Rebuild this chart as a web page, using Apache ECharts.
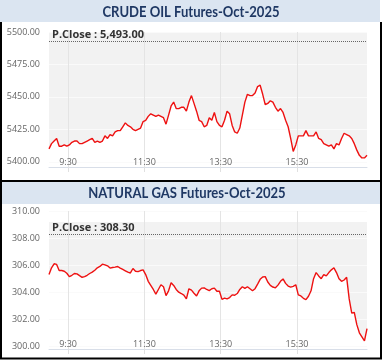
<!DOCTYPE html>
<html><head><meta charset="utf-8">
<script src="https://cdn.jsdelivr.net/npm/echarts@6/dist/echarts.min.js"></script>
<style>html,body{margin:0;padding:0;background:#fff}#c{width:383px;height:362px}</style>
</head><body><div id="c"></div>
<script>
// Sampling grid: 9:00 onward, every 4 minutes
const startMinute = 540;
const stepMinutes = 4;
const timeTickLabels = ['9:30', '11:30', '13:30', '15:30'];

const crudeTitle = 'CRUDE OIL Futures-Oct-2025';
const crudePrevClose = 5493.00;
const crudeYTicks = [5400, 5425, 5450, 5475, 5500];
const crudeValues = [
5410,5414,5416,5418,5412,5412,5413,5412,5413,5415,
5416,5416,5414,5414,5415,5416,5417,5418,5415,5416,
5415,5416,5420,5418,5421,5420,5423,5424,5424,5427,
5430,5428,5427,5425,5424,5425,5426,5431,5432,5435,
5437,5436,5435,5436,5435,5434,5429,5436,5443,5446,
5441,5441,5442,5442,5439,5446,5451,5445,5439,5432,
5431,5427,5428,5434,5432,5438,5431,5428,5427,5432,
5439,5437,5428,5423,5422,5426,5436,5446,5452,5451,
5451,5453,5458,5459,5452,5444,5445,5447,5446,5442,
5439,5441,5438,5432,5427,5418,5408,5413,5420,5420,
5420,5424,5420,5420,5420,5423,5418,5417,5414,5413,
5412,5413,5410,5414,5413,5418,5422,5421,5420,5418,
5414,5409,5405,5403,5403,5405
];

const gasTitle = 'NATURAL GAS Futures-Oct-2025';
const gasPrevClose = 308.30;
const gasYTicks = [300, 302, 304, 306, 308, 310];
const gasValues = [
305.3,305.8,306.1,306.05,305.6,305.6,305.55,305.4,305.15,305.25,
305.38,305.35,305.22,305.1,305.15,305.25,305.38,305.48,305.62,305.8,
305.9,306.07,306.02,305.95,305.78,305.82,305.85,305.9,305.78,305.68,
305.58,305.48,305.42,305.75,305.55,305.52,305.6,305.65,305.3,304.8,
304.5,304.2,303.85,304.2,304.55,304.4,303.75,304.1,304.7,304.5,
304.2,304.0,303.9,303.78,303.5,304.25,304.15,303.92,303.72,304.1,
304.3,304.32,304.2,304.12,304.25,304.3,304.07,304.07,303.47,303.56,
303.5,303.6,303.8,303.77,303.9,304.2,304.4,304.28,304.4,304.25,
304.1,304.26,304.6,304.95,305.12,305.15,304.75,304.5,304.38,304.32,
304.52,304.8,304.98,304.65,304.45,304.37,304.43,304.55,303.8,303.72,
303.55,303.45,303.7,304.1,305.0,305.45,305.2,305.0,305.3,305.2,
305.45,305.65,305.8,305.45,305.0,304.8,304.9,305.1,303.5,302.45,
302.5,301.6,301.0,300.7,300.4,301.3
];

function toMinutes(lbl){const p=lbl.split(':');return (+p[0])*60+(+p[1]);}
function fmtTime(v){const h=Math.floor(v/60), m=v%60;return h+':'+(m<10?'0':'')+m;}
function pairs(vals){return vals.map((v,i)=>[startMinute+i*stepMinutes, v]);}
const tickMinutes = timeTickLabels.map(toMinutes);
const xMax = startMinute + (crudeValues.length-1)*stepMinutes;

const labelFont = {fontFamily:'Open Sans', fontSize:9, color:'#666'};

function xAxisDef(gi){
  return {type:'value', gridIndex:gi, min:startMinute, max:xMax, z:3,
    axisLine:{show:true, lineStyle:{color:'#d8dee8', width:1}},
    axisTick:{show:true, customValues:tickMinutes, length:5, lineStyle:{color:'#e0e0e0'}},
    axisLabel:Object.assign({show:true, customValues:tickMinutes, inside:true, margin:0, formatter:fmtTime, hideOverlap:false, showMinLabel:true, showMaxLabel:true}, labelFont),
    splitLine:{show:true, lineStyle:{color:'#e4e4e4', width:1}}};
}
function yAxisDef(gi, min, max, ticks){
  return {type:'value', gridIndex:gi, min:min, max:max, z:3,
    axisLine:{show:false}, axisTick:{show:false, customValues:ticks},
    axisLabel:Object.assign({customValues:ticks, margin:9, formatter:v=>v.toFixed(2)}, labelFont),
    splitLine:{show:true, lineStyle:{color:'#fafafa', width:1}}};
}
function areaSeries(gi, vals){
  return {type:'line', xAxisIndex:gi, yAxisIndex:gi, data:pairs(vals), showSymbol:false, z:1,
    lineStyle:{width:0, opacity:0}, areaStyle:{color:'#ffffff', opacity:1}, silent:true, animation:false};
}
function lineSeries(gi, vals, pc, pcText){
  return {type:'line', xAxisIndex:gi, yAxisIndex:gi, data:pairs(vals), showSymbol:false, z:5,
    lineStyle:{color:'#ee1111', width:1.4}, itemStyle:{color:'#ee1111'},
    silent:true, animation:false,
    markLine:{silent:true, symbol:'none', animation:false,
      lineStyle:{color:'#666', type:'dotted', width:1},
      label:{show:true, position:'insideStartTop', formatter:pcText, distance:[3,1],
        fontFamily:'Open Sans', fontSize:11, fontWeight:'bold', color:'#333'},
      data:[{yAxis:pc}]}};
}

const chart = echarts.init(document.getElementById('c'), null, {renderer:'canvas'});
chart.setOption({
  animation:false,
  grid:[
    {left:49, top:32, width:318, height:135, show:false},
    {left:49, top:211, width:318, height:138, show:false}
  ],
  xAxis:[xAxisDef(0), xAxisDef(1)],
  yAxis:[yAxisDef(0,5396,5500,crudeYTicks), yAxisDef(1,299.8,310,gasYTicks)],
  series:[
    areaSeries(0, crudeValues),
    areaSeries(1, gasValues),
    lineSeries(0, crudeValues, crudePrevClose, 'P.Close : 5,493.00'),
    lineSeries(1, gasValues, gasPrevClose, 'P.Close : 308.30')
  ],
  graphic:[
    {type:'rect', z:-1, shape:{x:49,y:32,width:318,height:135}, style:{fill:'#f2f2f2'}},
    {type:'rect', z:-1, shape:{x:49,y:222,width:318,height:127}, style:{fill:'#f2f2f2'}},
    {type:'rect', z:10, shape:{x:0,y:0,width:380,height:22}, style:{fill:'#dbe5f1'}},
    {type:'rect', z:10, shape:{x:0,y:182,width:380,height:22}, style:{fill:'#dbe5f1'}},
    {type:'line', z:11, shape:{x1:1,y1:22,x2:1,y2:359}, style:{stroke:'#000',lineWidth:2}},
    {type:'line', z:11, shape:{x1:381,y1:22,x2:381,y2:359}, style:{stroke:'#000',lineWidth:2}},
    {type:'line', z:11, shape:{x1:0,y1:181,x2:382,y2:181}, style:{stroke:'#000',lineWidth:2}},
    {type:'line', z:11, shape:{x1:0,y1:358.5,x2:382,y2:358.5}, style:{stroke:'#000',lineWidth:2}},
    {type:'text', z:12, x:191, y:12, scaleX:0.87, style:{text:crudeTitle, fill:'#1f3864', font:'bold 15px Lato', align:'center', verticalAlign:'middle'}},
    {type:'text', z:12, x:187, y:193, scaleX:0.87, style:{text:gasTitle, fill:'#1f3864', font:'bold 15px Lato', align:'center', verticalAlign:'middle'}}
  ]
});
</script></body></html>
